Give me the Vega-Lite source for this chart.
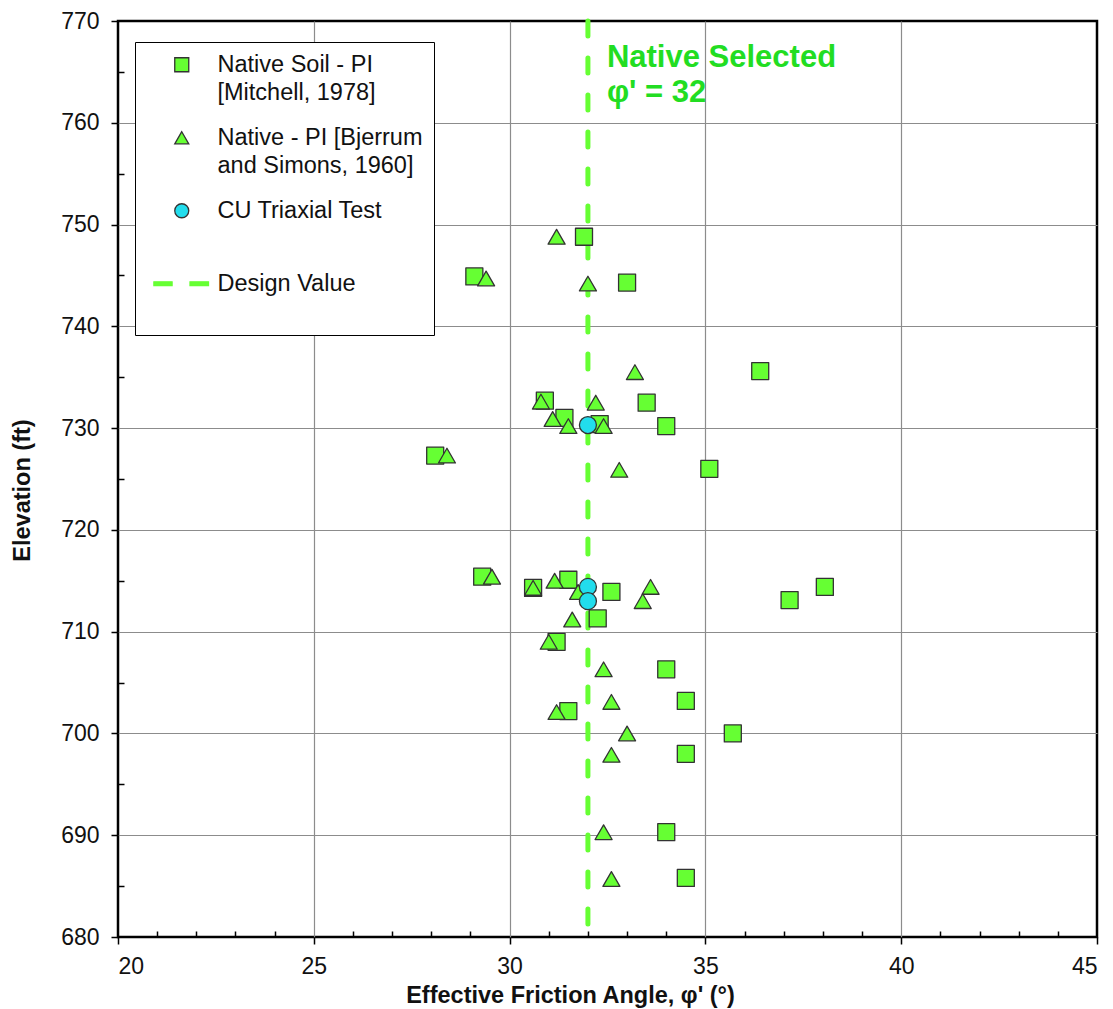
{
  "$schema": "https://vega.github.io/schema/vega-lite/v6.json",
  "width": 979,
  "height": 916,
  "autosize": {"type": "none"},
  "padding": {"left": 118, "top": 21, "right": 16, "bottom": 72},
  "background": "white",
  "config": {
    "font": "Liberation Sans",
    "view": {"stroke": "#000000", "strokeWidth": 2.5},
    "style": {"guide-label": {"lineHeight": 28}},
    "axis": {
      "labelFont": "Liberation Sans",
      "labelFontSize": 23,
      "labelColor": "#111111",
      "titleFont": "Liberation Sans",
      "titleFontSize": 23.5,
      "titleFontWeight": "bold",
      "titleColor": "#111111",
      "tickColor": "#000000",
      "tickWidth": 1.5,
      "domain": false
    },
    "legend": {
      "labelFont": "Liberation Sans",
      "labelFontSize": 23.5,
      "labelColor": "#111111",
      "labelLimit": 400
    }
  },
  "datasets": {
    "points": [
      {"series": "Mitchell", "phi": 31.9, "elev": 748.8},
      {"series": "Mitchell", "phi": 29.1, "elev": 744.9},
      {"series": "Mitchell", "phi": 33.0, "elev": 744.3},
      {"series": "Mitchell", "phi": 36.4, "elev": 735.6},
      {"series": "Mitchell", "phi": 30.9, "elev": 732.7},
      {"series": "Mitchell", "phi": 33.5, "elev": 732.5},
      {"series": "Mitchell", "phi": 31.4, "elev": 731.0},
      {"series": "Mitchell", "phi": 32.3, "elev": 730.4},
      {"series": "Mitchell", "phi": 34.0, "elev": 730.2},
      {"series": "Mitchell", "phi": 28.1, "elev": 727.3},
      {"series": "Mitchell", "phi": 35.1, "elev": 726.0},
      {"series": "Mitchell", "phi": 29.3, "elev": 715.4},
      {"series": "Mitchell", "phi": 30.6, "elev": 714.3},
      {"series": "Mitchell", "phi": 31.5, "elev": 715.1},
      {"series": "Mitchell", "phi": 32.6, "elev": 713.9},
      {"series": "Mitchell", "phi": 38.05, "elev": 714.4},
      {"series": "Mitchell", "phi": 37.15, "elev": 713.1},
      {"series": "Mitchell", "phi": 32.25, "elev": 711.3},
      {"series": "Mitchell", "phi": 31.2, "elev": 709.0},
      {"series": "Mitchell", "phi": 34.0, "elev": 706.3},
      {"series": "Mitchell", "phi": 34.5, "elev": 703.2},
      {"series": "Mitchell", "phi": 31.5, "elev": 702.2},
      {"series": "Mitchell", "phi": 35.7, "elev": 700.0},
      {"series": "Mitchell", "phi": 34.5, "elev": 698.0},
      {"series": "Mitchell", "phi": 34.0, "elev": 690.3},
      {"series": "Mitchell", "phi": 34.5, "elev": 685.8},
      {"series": "Bjerrum", "phi": 31.2, "elev": 748.8},
      {"series": "Bjerrum", "phi": 29.4, "elev": 744.7},
      {"series": "Bjerrum", "phi": 32.0, "elev": 744.2},
      {"series": "Bjerrum", "phi": 33.2, "elev": 735.5},
      {"series": "Bjerrum", "phi": 30.8, "elev": 732.6},
      {"series": "Bjerrum", "phi": 32.2, "elev": 732.5},
      {"series": "Bjerrum", "phi": 31.1, "elev": 730.9},
      {"series": "Bjerrum", "phi": 31.5, "elev": 730.2},
      {"series": "Bjerrum", "phi": 32.4, "elev": 730.2},
      {"series": "Bjerrum", "phi": 28.4, "elev": 727.3},
      {"series": "Bjerrum", "phi": 32.8, "elev": 725.9},
      {"series": "Bjerrum", "phi": 29.55, "elev": 715.4},
      {"series": "Bjerrum", "phi": 30.6, "elev": 714.3},
      {"series": "Bjerrum", "phi": 31.15, "elev": 715.0},
      {"series": "Bjerrum", "phi": 31.75, "elev": 713.9},
      {"series": "Bjerrum", "phi": 33.6, "elev": 714.4},
      {"series": "Bjerrum", "phi": 33.4, "elev": 713.0},
      {"series": "Bjerrum", "phi": 31.6, "elev": 711.2},
      {"series": "Bjerrum", "phi": 31.0, "elev": 709.0},
      {"series": "Bjerrum", "phi": 32.4, "elev": 706.3},
      {"series": "Bjerrum", "phi": 32.6, "elev": 703.1},
      {"series": "Bjerrum", "phi": 31.2, "elev": 702.1},
      {"series": "Bjerrum", "phi": 33.0, "elev": 700.0},
      {"series": "Bjerrum", "phi": 32.6, "elev": 697.9},
      {"series": "Bjerrum", "phi": 32.4, "elev": 690.3},
      {"series": "Bjerrum", "phi": 32.6, "elev": 685.7},
      {"series": "CU", "phi": 32.0, "elev": 730.3},
      {"series": "CU", "phi": 32.0, "elev": 714.4},
      {"series": "CU", "phi": 32.0, "elev": 713.0}
    ],
    "design": [
      {"phi": 32, "elev": 765.5, "note": "Native Selected\nφ' = 32"}
    ]
  },
  "resolve": {"axis": {"x": "independent", "y": "independent"}},
  "layer": [
    {
      "data": {"name": "design"},
      "mark": {"type": "rule", "color": "#66ff33", "strokeWidth": 5, "strokeDash": [15, 22], "strokeCap": "round"},
      "encoding": {
        "x": {
          "field": "phi", "type": "quantitative",
          "scale": {"domain": [20, 45], "nice": false, "zero": false},
          "axis": {
            "orient": "bottom",
            "values": [21, 22, 23, 24, 26, 27, 28, 29, 31, 32, 33, 34, 36, 37, 38, 39, 41, 42, 43, 44],
            "tickSize": -6, "labels": false, "grid": false, "title": null
          }
        }
      }
    },
    {
      "data": {"name": "points"},
      "mark": {"type": "point", "filled": true, "size": 289, "opacity": 1, "strokeJoin": "round"},
      "encoding": {
        "x": {
          "field": "phi", "type": "quantitative",
          "scale": {"domain": [20, 45], "nice": false, "zero": false},
          "axis": {
            "orient": "bottom",
            "values": [20, 25, 30, 35, 40, 45],
            "tickSize": 7, "labelPadding": 11,
            "grid": true, "gridColor": "#8c8c8c", "gridWidth": 1.2,
            "gridOpacity": {"condition": {"test": "datum.value == 20 || datum.value == 45", "value": 0}, "value": 1},
            "title": "Effective Friction  Angle, φ' (°)",
            "titleX": 452, "titleY": 58, "titleBaseline": "middle", "titleAnchor": "start", "titleAlign": "center"
          }
        },
        "y": {
          "field": "elev", "type": "quantitative",
          "scale": {"domain": [680, 770], "nice": false, "zero": false},
          "axis": {
            "orient": "left",
            "values": [680, 690, 700, 710, 720, 730, 740, 750, 760, 770],
            "tickSize": 7, "labelPadding": 12,
            "grid": true, "gridColor": "#8c8c8c", "gridWidth": 1.2,
            "gridOpacity": {"condition": {"test": "datum.value == 680 || datum.value == 770", "value": 0}, "value": 1},
            "title": "Elevation (ft)",
            "titleX": -96, "titleY": 469, "titleAngle": -90, "titleBaseline": "middle", "titleAlign": "center", "titleAnchor": "start"
          }
        },
        "fill": {
          "field": "series", "type": "nominal",
          "scale": {"domain": ["Mitchell", "Bjerrum", "CU", "Design"], "range": ["#66ff33", "#66ff33", "#22dded", "#66ff33"]},
          "legend": {
            "title": null,
            "orient": "none",
            "legendX": 17,
            "legendY": 21,
            "padding": 11,
            "fillColor": "#ffffff",
            "strokeColor": "#000000",
            "symbolSize": 196,
            "symbolOffset": 24,
            "labelOffset": 24,
            "rowPadding": 20,
            "labelBaseline": "middle",
            "labelExpr": "datum.value == 'Mitchell' ? ['Native Soil - PI', '[Mitchell, 1978]'] : datum.value == 'Bjerrum' ? ['Native - PI [Bjerrum', 'and Simons, 1960]'] : datum.value == 'CU' ? ['CU Triaxial Test', ''] : ['Design Value', '']"
          }
        },
        "shape": {
          "field": "series", "type": "nominal",
          "scale": {
            "domain": ["Mitchell", "Bjerrum", "CU", "Design"],
            "range": ["square", "triangle-up", "circle", "M-3.98,-0.28H-1.38V0.28H-3.98Z M1.18,-0.28H3.82V0.28H1.18Z"]
          }
        },
        "stroke": {
          "field": "series", "type": "nominal",
          "scale": {"domain": ["Mitchell", "Bjerrum", "CU", "Design"], "range": ["#333333", "#333333", "#333333", "#66ff33"]}
        },
        "strokeWidth": {
          "field": "series", "type": "nominal",
          "scale": {"domain": ["Mitchell", "Bjerrum", "CU", "Design"], "range": [1.3, 1.3, 1.3, 1.3]}
        }
      }
    },
    {
      "data": {"name": "design"},
      "mark": {"type": "text", "align": "left", "baseline": "alphabetic", "dx": 19, "fontSize": 31, "fontWeight": "bold", "color": "#22dd22", "lineBreak": "\n", "lineHeight": 35},
      "encoding": {
        "x": {"field": "phi", "type": "quantitative", "axis": null},
        "y": {
          "field": "elev", "type": "quantitative",
          "scale": {"domain": [680, 770], "nice": false, "zero": false},
          "axis": {
            "orient": "left",
            "values": [685, 695, 705, 715, 725, 735, 745, 755, 765],
            "tickSize": -6, "labels": false, "grid": false, "title": null
          }
        },
        "text": {"field": "note"}
      }
    }
  ]
}
